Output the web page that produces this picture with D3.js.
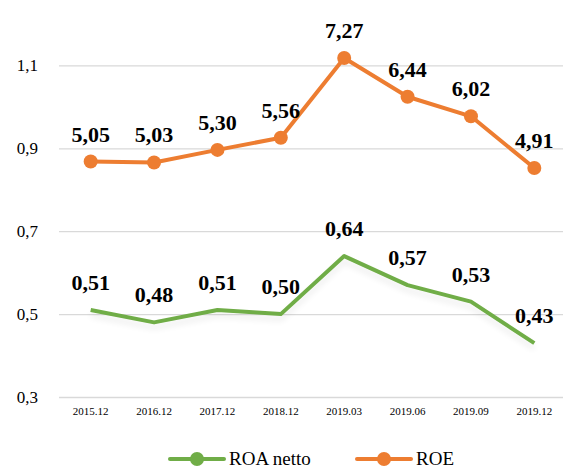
<!DOCTYPE html>
<html>
<head>
<meta charset="utf-8">
<script src="https://cdn.jsdelivr.net/npm/d3@7"></script>
<style>
  body { margin: 0; background: #fff; }
</style>
</head>
<body>
<div class="chart"></div>
<script>
// size
var width = 563;
var height = 468;
var margin = { top: 24, bottom: 71, left: 59, right: -3 };
var serif = "'Times New Roman', Times, 'Liberation Serif', Tinos, 'Noto Serif', 'DejaVu Serif', FreeSerif, serif";

// data
var categories = ["2015.12", "2016.12", "2017.12", "2018.12", "2019.03", "2019.06", "2019.09", "2019.12"];
var roaValues = [0.51, 0.48, 0.51, 0.50, 0.64, 0.57, 0.53, 0.43];
var roeValues = [5.05, 5.03, 5.30, 5.56, 7.27, 6.44, 6.02, 4.91];
var leftTicks = [0.3, 0.5, 0.7, 0.9, 1.1];

var green = "#70ad47";
var orange = "#ed7d31";

const svg = d3.select(".chart")
  .append("svg")
  .attr("width", width)
  .attr("height", height)
  .style("font-family", serif);

var x = d3.scalePoint()
  .domain(categories)
  .range([margin.left, width - margin.right])
  .padding(0.5);

var y = d3.scaleLinear()
  .domain([0.3, 1.2])
  .range([height - margin.bottom, margin.top]);

// hidden secondary axis for ROE
var y2 = d3.scaleLinear()
  .domain([0, 8])
  .range([height - margin.bottom, margin.top]);

var fmt = d => d3.format(".2f")(d).replace(".", ",");

// gridlines + left axis
const yAxis = d3.axisLeft(y)
  .tickValues(leftTicks)
  .tickSize(-(width - margin.left))
  .tickPadding(21)
  .tickFormat(d => d3.format(".1f")(d).replace(".", ","));

svg.append("g")
  .attr("transform", "translate(" + margin.left + ",0)")
  .call(yAxis)
  .call(g => g.select(".domain").remove())
  .call(g => g.selectAll(".tick line").attr("stroke", "#d9d9d9").attr("stroke-width", 1.3))
  .call(g => g.selectAll(".tick text").attr("fill", "#000").style("font-size", "17px").style("font-family", serif));

// x labels
svg.append("g")
  .selectAll("text")
  .data(categories)
  .enter()
  .append("text")
  .attr("x", d => x(d))
  .attr("y", height - margin.bottom + 18)
  .attr("text-anchor", "middle")
  .style("font-size", "11px")
  .text(d => d);

// shadow under green line
var defs = svg.append("defs");
var f = defs.append("filter").attr("id", "shadow").attr("x", "-10%").attr("y", "-20%").attr("width", "120%").attr("height", "160%");
f.append("feGaussianBlur").attr("in", "SourceAlpha").attr("stdDeviation", 3).attr("result", "b");
f.append("feOffset").attr("in", "b").attr("dy", 5).attr("result", "o");
f.append("feComponentTransfer").attr("in", "o").attr("result", "s")
  .append("feFuncA").attr("type", "linear").attr("slope", 0.08);
var m = f.append("feMerge");
m.append("feMergeNode").attr("in", "s");
m.append("feMergeNode").attr("in", "SourceGraphic");

var lineRoa = d3.line()
  .x((d, i) => x(categories[i]))
  .y(d => y(d));
var lineRoe = d3.line()
  .x((d, i) => x(categories[i]))
  .y(d => y2(d));

svg.append("path")
  .datum(roaValues)
  .attr("fill", "none")
  .attr("stroke", green)
  .attr("stroke-width", 4)
  .attr("stroke-linejoin", "round")
  .attr("filter", "url(#shadow)")
  .attr("d", lineRoa);

svg.append("path")
  .datum(roeValues)
  .attr("fill", "none")
  .attr("stroke", orange)
  .attr("stroke-width", 4)
  .attr("stroke-linejoin", "round")
  .attr("d", lineRoe);

svg.append("g")
  .selectAll("circle")
  .data(roeValues)
  .enter()
  .append("circle")
  .attr("cx", (d, i) => x(categories[i]))
  .attr("cy", d => y2(d))
  .attr("r", 7)
  .attr("fill", orange);

// data labels
svg.append("g")
  .selectAll("text")
  .data(roaValues)
  .enter()
  .append("text")
  .attr("x", (d, i) => x(categories[i]))
  .attr("y", d => y(d) - 20)
  .attr("text-anchor", "middle")
  .style("font-size", "22px")
  .style("font-weight", "bold")
  .text(fmt);

svg.append("g")
  .selectAll("text")
  .data(roeValues)
  .enter()
  .append("text")
  .attr("x", (d, i) => x(categories[i]))
  .attr("y", d => y2(d) - 20)
  .attr("text-anchor", "middle")
  .style("font-size", "22px")
  .style("font-weight", "bold")
  .text(fmt);

// legend
var legendItems = [
  { name: "ROA netto", color: green, x: 170 },
  { name: "ROE", color: orange, x: 357 }
];
var legend = svg.append("g").attr("id", "legend");
var li = legend.selectAll("g")
  .data(legendItems)
  .enter()
  .append("g")
  .attr("transform", d => "translate(" + d.x + "," + 459 + ")");
li.append("line")
  .attr("x1", 0).attr("x2", 54)
  .attr("stroke", d => d.color)
  .attr("stroke-width", 4)
  .attr("stroke-linecap", "round");
li.append("circle")
  .attr("cx", 27).attr("r", 7)
  .attr("fill", d => d.color);
li.append("text")
  .attr("x", 59)
  .attr("y", 6)
  .style("font-size", "19px")
  .text(d => d.name);
</script>
</body>
</html>
